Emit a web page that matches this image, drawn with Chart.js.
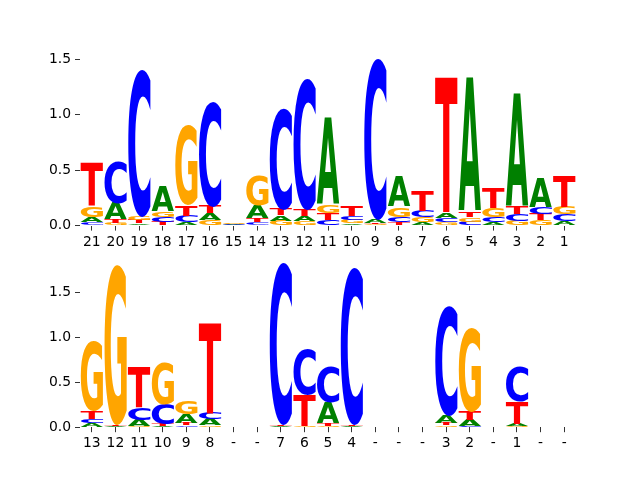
<!DOCTYPE html>
<html>
<head>
<meta charset="utf-8">
<script src="https://cdn.jsdelivr.net/npm/chart.js@4"></script>
<style>
  body { margin: 0; background: #fff; }
  #wrap { position: relative; width: 640px; height: 480px; }
  canvas { position: absolute; left: 0; }
</style>
</head>
<body>
<div id="wrap">
  <canvas id="top" width="640" height="250" style="top:0"></canvas>
  <canvas id="bottom" width="640" height="230" style="top:250px"></canvas>
</div>
<script>
// top logo
const topLabels = ["21","20","19","18","17","16","15","14","13","12","11","10","9","8","7","6","5","4","3","2","1"];
const topA = [0.05,0.15,0.02,0.22,0.03,0.06,0.005,0.12,0.05,0.05,0.79,0.02,0.03,0.27,0.03,0.05,1.21,0.03,1.03,0.265,0.04];
const topC = [0.03,0.38,1.34,0.045,0.06,0.95,0.005,0.03,0.92,1.19,0.05,0.04,1.46,0.05,0.055,0.04,0.035,0.05,0.06,0.065,0.06];
const topG = [0.10,0.025,0.04,0.05,0.72,0.05,0.006,0.27,0.045,0.04,0.075,0.03,0.012,0.09,0.045,0.03,0.04,0.08,0.045,0.05,0.07];
const topT = [0.39,0.03,0.03,0.035,0.10,0.065,0.004,0.035,0.055,0.055,0.06,0.09,0.015,0.03,0.18,1.23,0.045,0.18,0.065,0.052,0.28];

// bottom logo
const botLabels = ["13","12","11","10","9","8","-","-","7","6","5","4","-","-","-","3","2","-","1","-","-"];
const botA = [0.045,0.012,0.07,0.012,0.10,0.065,0,0,0.01,0.005,0.23,0.01,0,0,0,0.085,0.07,0,0.025,0,0];
const botC = [0.05,0.005,0.14,0.23,0.02,0.075,0,0,1.80,0.51,0.40,1.75,0,0,0,1.22,0.012,0,0.385,0,0];
const botG = [0.78,1.77,0.01,0.47,0.15,0.02,0,0,0.005,0.01,0.015,0.005,0,0,0,0.02,0.93,0,0.01,0,0];
const botT = [0.09,0.02,0.46,0.025,0.03,1.01,0,0,0.015,0.35,0.025,0.02,0,0,0,0.03,0.10,0,0.25,0,0];

const yTicks = [0, 0.5, 1.0, 1.5];
const colors = { A: "#008000", C: "#0000ff", G: "#ffa500", T: "#ff0000" };
const FONT = "DejaVu Sans";

// smallest letter at the bottom: one dataset per rank
function buildStacks(vals) {
  const n = vals.A.length;
  const data = [[], [], [], []], glyphs = [[], [], [], []];
  for (let i = 0; i < n; i++) {
    const col = Object.keys(vals).map(k => ({ k, v: vals[k][i] })).sort((a, b) => a.v - b.v);
    col.forEach((c, r) => { data[r][i] = c.v; glyphs[r][i] = c.k; });
  }
  return { data, glyphs };
}

const glyphPlugin = {
  id: "glyphs",
  afterDatasetsDraw(chart) {
    const ctx = chart.ctx;
    const glyphs = chart.options.plugins.glyphs.letters;
    ctx.save();
    ctx.font = "bold 100px '" + FONT + "'";
    ctx.textAlign = "left";
    ctx.textBaseline = "alphabetic";
    chart.data.datasets.forEach((ds, di) => {
      chart.getDatasetMeta(di).data.forEach((el, i) => {
        const p = el.getProps(["x", "y", "base", "width"], true);
        const h = p.base - p.y;
        if (!(h > 0)) return;
        const ch = glyphs[di][i];
        const m = ctx.measureText(ch);
        const gw = m.actualBoundingBoxLeft + m.actualBoundingBoxRight;
        const gh = m.actualBoundingBoxAscent + m.actualBoundingBoxDescent;
        ctx.save();
        ctx.translate(p.x - p.width / 2, p.y);
        ctx.scale(p.width / gw, h / gh);
        ctx.fillStyle = colors[ch];
        ctx.fillText(ch, m.actualBoundingBoxLeft, m.actualBoundingBoxAscent);
        ctx.restore();
      });
    });
    ctx.restore();
  }
};

function makeLogo(id, labels, vals, padTop, xAxisH) {
  const st = buildStacks(vals);
  const sums = labels.map((_, i) => st.data.reduce((s, d) => s + d[i], 0));
  const tickFont = { family: FONT, size: 13.9 };
  new Chart(document.getElementById(id), {
    type: "bar",
    data: {
      labels,
      datasets: st.data.map(d => ({
        data: d,
        backgroundColor: "transparent",
        borderWidth: 0,
        barPercentage: 0.95,
        categoryPercentage: 1
      }))
    },
    options: {
      responsive: false,
      animation: false,
      layout: { padding: { top: padTop, right: 64, left: 0, bottom: 0 } },
      plugins: {
        legend: { display: false },
        tooltip: { enabled: false },
        glyphs: { letters: st.glyphs }
      },
      scales: {
        x: {
          stacked: true,
          border: { display: false },
          grid: { offset: false, drawOnChartArea: false, drawTicks: true, tickLength: 5, color: "#000", lineWidth: 0.8 },
          ticks: { color: "#000", font: tickFont, padding: 3, maxRotation: 0, autoSkip: false },
          afterFit: s => { s.height = xAxisH; }
        },
        y: {
          stacked: true,
          min: 0,
          max: Math.max(...sums),
          border: { display: false },
          grid: { drawOnChartArea: false, drawTicks: true, tickLength: 5, color: "#000", lineWidth: 0.8 },
          afterBuildTicks: s => { s.ticks = yTicks.map(v => ({ value: v })); },
          ticks: { color: "#000", font: tickFont, padding: 4, callback: v => v.toFixed(1) },
          afterFit: s => { s.width = 80; }
        }
      }
    },
    plugins: [glyphPlugin]
  });
}

makeLogo("top", topLabels, { A: topA, C: topC, G: topG, T: topT }, 57.6, 24.4);
makeLogo("bottom", botLabels, { A: botA, C: botC, G: botG, T: botT }, 9.2, 52.8);
</script>
</body>
</html>
